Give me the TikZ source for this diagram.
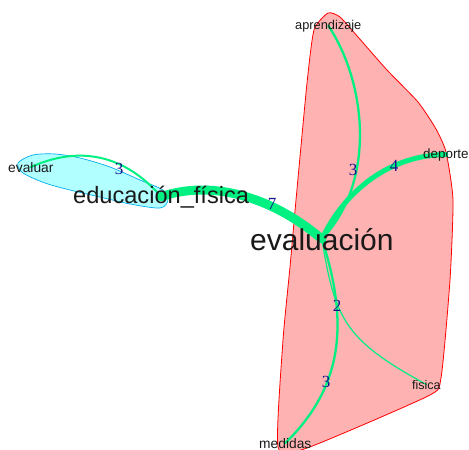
\documentclass[tikz,border=0pt]{standalone}
\usepackage{fontspec}
\setmainfont{Liberation Sans}
\newfontfamily\numfont{Liberation Serif}
\definecolor{hullred}{RGB}{255,178,178}
\definecolor{hullcyan}{RGB}{178,255,255}
\definecolor{edgegreen}{RGB}{0,240,130}
\definecolor{lblblue}{RGB}{20,20,140}
\pgfdeclarelayer{hull}
\pgfdeclarelayer{edges}
\pgfsetlayers{hull,edges,main}
\tikzset{
  word/.style={inner sep=0pt, anchor=base west, text=black!90},
  lbl/.style={inner sep=0pt, text=lblblue, font=\numfont\fontsize{17}{17}\selectfont},
  edge/.style={draw=edgegreen, line cap=round},
}
\begin{document}
\begin{tikzpicture}[x=1pt,y=-1pt]
\useasboundingbox (0,0) rectangle (469,450);
% word nodes
\node[word, font=\fontsize{13.8}{13.8}\selectfont] (evaluar) at (8,172) {evaluar};
\node[word, font=\fontsize{23.6}{23.6}\selectfont] (edfis) at (73,203) {educación\_física};
\node[word, font=\fontsize{30}{30}\selectfont] (evaluacion) at (250,250) {evaluación};
\node[word, font=\fontsize{12.8}{12.8}\selectfont] (aprend) at (295,29) {aprendizaje};
\node[word, font=\fontsize{13.4}{13.4}\selectfont] (deporte) at (423,158) {deporte};
\node[word, font=\fontsize{12.5}{12.5}\selectfont] (fisica) at (412,389) {fisica};
\node[word, font=\fontsize{13.8}{13.8}\selectfont] (medidas) at (259,448) {medidas};
% hulls
\begin{pgfonlayer}{hull}
\filldraw[fill=hullred, draw=red, line width=0.8pt]
  plot[smooth cycle, tension=0.35] coordinates {(328,13) (340,17) (358,37) (387,70) (418,102) (436,129) (446,152) (453,200) (450,280) (441,378) (428,396) (307,448) (278,447) (283,340) (290,267) (296,200) (307,83) (314,30)};
\filldraw[fill=hullcyan, draw=cyan, line width=0.7pt]
  plot[smooth cycle, tension=0.5] coordinates {(18,163) (33,155) (55,154) (80,158) (110,167) (140,180) (163,190) (168,200) (160,208) (130,204) (100,197) (70,190) (45,183) (23,173)};
\end{pgfonlayer}
% edges
\begin{pgfonlayer}{edges}
\draw[edge, line width=2pt] (evaluar.center) .. controls (80,145) and (125,155) .. (edfis.center);
\draw[edge, line width=9pt] (edfis.center) .. controls (210,180) and (270,195) .. (evaluacion.center);
\draw[edge, line width=2.3pt] (aprend.center) .. controls (365,80) and (378,180) .. (evaluacion.center);
\draw[edge, line width=5pt] (deporte.center) .. controls (390,155) and (345,190) .. (evaluacion.center);
\draw[edge, line width=1.2pt] (evaluacion.center) .. controls (335,320) and (345,340) .. (fisica.center);
\draw[edge, line width=2.3pt] (evaluacion.center) .. controls (348,320) and (345,385) .. (medidas.center);
\end{pgfonlayer}
% edge labels
\node[lbl] (l1) at (119,169) {3};
\node[lbl] (l2) at (272,204) {7};
\node[lbl] (l3) at (353,170) {3};
\node[lbl] (l4) at (394,166) {4};
\node[lbl] (l5) at (337,306) {2};
\node[lbl] (l6) at (326,382) {3};
\end{tikzpicture}
\end{document}
